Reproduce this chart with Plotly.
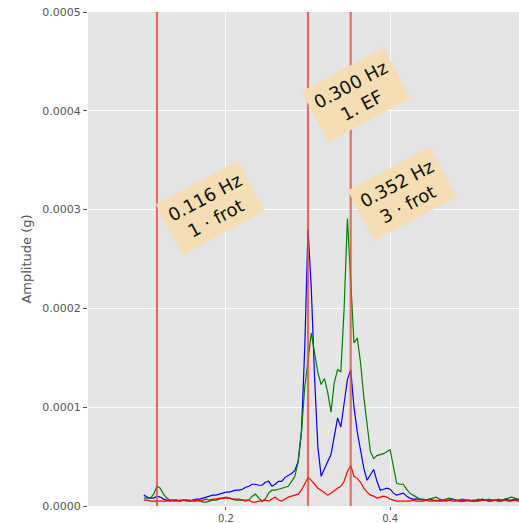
import numpy as np
import plotly.graph_objects as go

# sampling grid of the spectrum (Hz)
f_start = 0.100
f_step = 0.004
n_pts = 116
freq = np.round(f_start + f_step * np.arange(n_pts), 3)

# amplitudes in units of 1e-5 g
blue_e5 = [1.1, 0.9, 0.8, 0.8, 1.0, 0.9, 0.7, 0.6, 0.5, 0.6,
           0.6, 0.5, 0.6, 0.6, 0.5, 0.6, 0.7, 0.7, 0.8, 0.9,
           1.0, 1.1, 1.1, 1.2, 1.3, 1.4, 1.4, 1.5, 1.6, 1.6,
           1.7, 1.9, 2.0, 2.2, 2.2, 2.1, 2.1, 2.4, 2.5, 2.0,
           2.2, 2.5, 2.5, 2.9, 3.1, 3.3, 3.6, 4.5, 7.5, 16.0,
           28.0, 22.0, 13.0, 6.0, 3.0, 3.8, 4.5, 5.2, 7.0, 8.9,
           8.0, 10.5, 12.8, 13.8, 10.0, 7.5, 5.5, 3.8, 2.6, 3.2,
           3.7, 2.5, 1.6, 1.7, 1.8, 1.7, 1.3, 1.1, 1.2, 1.3,
           1.0, 0.8, 0.7, 0.7,
           0.7, 0.6, 0.6, 0.7, 0.6, 0.5, 0.6, 0.6, 0.5, 0.6,
           0.7, 0.6, 0.5, 0.5, 0.6, 0.6, 0.5, 0.5, 0.6, 0.7,
           0.6, 0.5, 0.6, 0.6, 0.5, 0.6, 0.7, 0.6, 0.6, 0.7,
           0.6, 0.6]
green_e5 = [0.8, 0.8, 0.8, 1.2, 2.0, 1.8, 1.2, 0.8, 0.6, 0.6,
            0.6, 0.5, 0.6, 0.6, 0.6, 0.5, 0.5, 0.6, 0.4, 0.4,
            0.5, 0.6, 0.6, 0.7, 0.8, 0.9, 0.8, 0.7, 0.6, 0.6,
            0.6, 0.5, 0.6, 1.0, 1.2, 0.8, 0.5, 0.7, 1.3, 1.6,
            1.6, 1.7, 1.8, 1.9, 2.0, 2.5, 3.0, 4.5, 7.5, 12.0,
            15.0, 17.5, 15.5, 13.5, 12.3, 12.9, 11.5, 9.5, 12.5, 13.8,
            13.6, 20.0, 29.1, 22.0, 16.5, 17.0, 14.5, 11.0, 8.0, 5.5,
            4.8, 5.1, 5.2, 5.3, 5.5, 5.7, 4.0, 2.3, 2.2, 2.2,
            1.7, 1.3, 1.1, 0.9,
            0.7, 0.7, 0.6, 0.7, 0.8, 0.9, 0.7, 0.6, 0.7, 0.8,
            0.7, 0.6, 0.6, 0.7, 0.6, 0.5, 0.6, 0.6, 0.7, 0.6,
            0.6, 0.7, 0.6, 0.6, 0.7, 0.6, 0.7, 0.8, 0.9, 0.8,
            0.7, 0.6]
red_e5 = [0.6, 0.6, 0.5, 0.5, 0.5, 0.5, 0.5, 0.5, 0.6, 0.5,
          0.5, 0.6, 0.6, 0.5, 0.5, 0.6, 0.6, 0.5, 0.6, 0.7,
          0.6, 0.7, 0.7, 0.8, 0.8, 0.8, 0.8, 0.7, 0.7, 0.7,
          0.6, 0.6, 0.6, 0.4, 0.4, 0.5, 0.5, 0.6, 0.5, 0.7,
          0.9, 0.6, 0.5, 0.7, 0.9, 1.0, 1.1, 1.2, 1.6, 2.3,
          2.9, 2.6, 2.2, 1.8, 1.6, 1.3, 1.1, 1.3, 1.6, 1.8,
          2.0, 2.5, 3.5, 4.1, 3.0, 2.8, 2.4, 1.8, 1.4, 1.1,
          1.0, 0.8, 0.9, 1.0, 0.9, 0.7, 0.6, 0.5, 0.5, 0.5,
          0.5, 0.5, 0.6, 0.5,
          0.5, 0.5, 0.6, 0.5, 0.5, 0.6, 0.5, 0.5, 0.6, 0.6,
          0.5, 0.5, 0.6, 0.5, 0.5, 0.6, 0.5, 0.5, 0.5, 0.6,
          0.6, 0.5, 0.5, 0.6, 0.5, 0.5, 0.6, 0.5, 0.5, 0.6,
          0.5, 0.5]

peak_freqs = [0.116, 0.300, 0.352]
peak_labels = ["0.116 Hz<br>1 · frot", "0.300 Hz<br>1. EF", "0.352 Hz<br>3 · frot"]
label_x = [0.180, 0.358, 0.414]
label_y = [0.000302, 0.000416, 0.000316]

y_ticks = [0.0, 0.0001, 0.0002, 0.0003, 0.0004, 0.0005]
x_ticks = [0.2, 0.4]

scale = 1e-5
fig = go.Figure()
for vals, col in [(blue_e5, "#0000ff"), (green_e5, "#008000"), (red_e5, "#ff0000")]:
    fig.add_trace(go.Scatter(x=freq, y=np.array(vals) * scale, mode="lines",
                             line=dict(color=col, width=1.2), showlegend=False,
                             hoverinfo="skip"))

for pf in peak_freqs:
    fig.add_shape(type="line", xref="x", yref="paper", x0=pf, x1=pf, y0=0, y1=1,
                  line=dict(color="rgba(222,80,64,0.8)", width=2.2))

for lx, ly, lt in zip(label_x, label_y, peak_labels):
    fig.add_annotation(x=lx, y=ly, xref="x", yref="y", text=lt, showarrow=False,
                       textangle=-28, font=dict(family="DejaVu Sans", size=18, color="#111"),
                       bgcolor="#F5DEB3", borderpad=6, align="center")

fig.update_layout(
    width=519, height=523,
    margin=dict(l=88, r=0, t=12, b=17, autoexpand=False),
    paper_bgcolor="white", plot_bgcolor="#E5E5E5",
    font=dict(family="DejaVu Sans", color="#555555", size=11),
)
fig.update_xaxes(range=[0.032, 0.557], tickvals=x_ticks, ticktext=["0.2", "0.4"],
                 showgrid=True, gridcolor="white", gridwidth=1, zeroline=False,
                 ticks="outside", ticklen=3, tickcolor="#555555", showline=False,
                 automargin=False, ticklabelstandoff=0,
                 tickfont=dict(size=10, color="#555555"))
fig.update_yaxes(range=[0, 0.0005], tickvals=y_ticks, tickformat=".4f",
                 showgrid=True, gridcolor="white", gridwidth=1, zeroline=False,
                 ticks="outside", ticklen=4, tickcolor="#555555", showline=False,
                 automargin=False,
                 tickfont=dict(size=11, color="#555555"),
                 title=dict(text="Amplitude (g)", font=dict(size=13, color="#555555"), standoff=7))

# remove the default 8 px page margin so the figure fills the window exactly
fig.write_html("out.html", config={"displayModeBar": False},
               post_script="document.body.style.margin='0px';document.body.style.padding='0px';")
